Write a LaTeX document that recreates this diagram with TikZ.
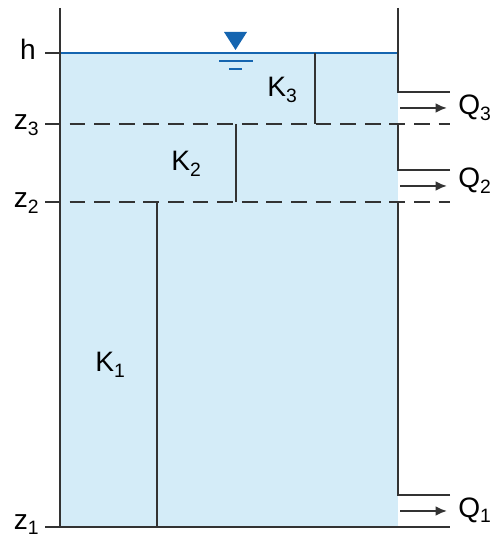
\documentclass[tikz,border=0pt]{standalone}
\usepackage{fontspec}
\setmainfont{Liberation Sans}
\usetikzlibrary{arrows.meta}
\definecolor{waterfill}{HTML}{D4ECF8}
\definecolor{waterline}{HTML}{1565B0}
\definecolor{wallgray}{HTML}{333333}
\tikzset{
  wall/.style={wallgray,line width=1.1pt},
  level/.style={wallgray,line width=1.1pt,dash pattern=on 9pt off 5pt},
  flow/.style={wallgray,line width=1.1pt,-{Latex[length=6.5pt,width=5.5pt]}},
  lbl/.style={font=\fontsize{16}{19}\selectfont,inner sep=0pt}
}
\newcommand{\sub}[1]{\raisebox{-0.35ex}{\fontsize{11}{13}\selectfont #1}}
\begin{document}
\begin{tikzpicture}[scale=0.2]
  \useasboundingbox (0,0) rectangle (49.2,53.9);
  % Water
  \fill[waterfill] (6,1.2) rectangle (39.8,48.6);
  \draw[waterline,line width=1.6pt] (6,48.6) -- (39.8,48.6);
  \fill[waterline] (22.4,50.7) -- (24.7,50.7) -- (23.55,48.9) -- cycle;
  \draw[waterline,line width=1.3pt] (21.9,47.8) -- (25.3,47.8);
  \draw[waterline,line width=1.3pt] (22.9,47.0) -- (24.2,47.0);
  % Walls
  \draw[wall] (6,53.1) -- (6,1.2);
  \draw[wall] (39.8,53.1) -- (39.8,44.7) -- (45,44.7);
  \draw[wall] (45,36.9) -- (39.8,36.9) -- (39.8,41.5);
  \draw[wall] (45,4.4) -- (39.8,4.4) -- (39.8,33.7);
  \draw[wall] (4.5,48.6) -- (6,48.6);
  \draw[wall] (4.5,1.2) -- (45,1.2);
  % Levels
  \draw[level] (4.5,41.5) -- (45,41.5);
  \draw[level] (4.5,33.7) -- (45,33.7);
  % Zone boundaries
  \draw[wall] (31.5,48.6) -- (31.5,41.5);
  \draw[wall] (23.6,41.5) -- (23.6,33.7);
  \draw[wall] (15.7,33.7) -- (15.7,1.2);
  % Outflows
  \draw[flow] (40,43.1) -- (44.7,43.1);
  \draw[flow] (40,35.3) -- (44.7,35.3);
  \draw[flow] (40,2.8) -- (44.7,2.8);
  % Labels
  \node[lbl,anchor=base east] (h) at (3.6,47.9) {h};
  \node[lbl,anchor=base east] (z3) at (3.9,40.9) {z\sub{3}};
  \node[lbl,anchor=base east] (z2) at (3.9,33.1) {z\sub{2}};
  \node[lbl,anchor=base east] (z1) at (3.9,1.0) {z\sub{1}};
  \node[lbl,anchor=base west] (k3) at (26.7,44.2) {K\sub{3}};
  \node[lbl,anchor=base west] (k2) at (17.1,36.8) {K\sub{2}};
  \node[lbl,anchor=base west] (k1) at (9.5,16.7) {K\sub{1}};
  \node[lbl,anchor=base west] (q3) at (45.8,42.4) {Q\sub{3}};
  \node[lbl,anchor=base west] (q2) at (45.8,35.1) {Q\sub{2}};
  \node[lbl,anchor=base west] (q1) at (45.8,2.2) {Q\sub{1}};
\end{tikzpicture}
\end{document}
